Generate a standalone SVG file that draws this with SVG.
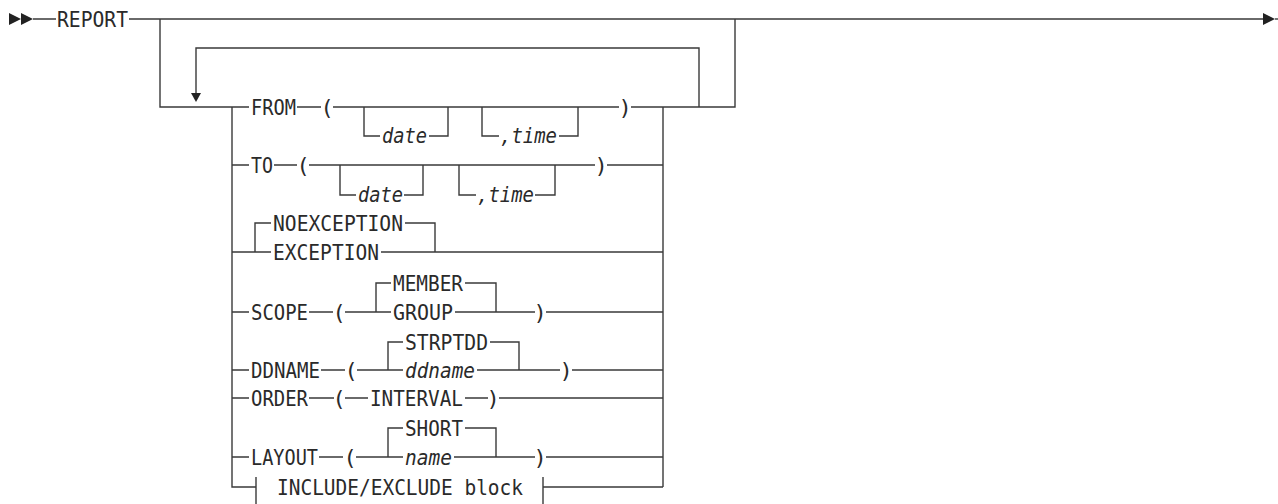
<svg xmlns="http://www.w3.org/2000/svg" width="1278" height="504" viewBox="0 0 1278 504">
<style>
.l{fill:none;stroke:#3a3a3a;stroke-width:1.4}
.a{fill:#222}
text{font-family:"DejaVu Sans Mono","Liberation Mono",monospace;font-size:22px;fill:#2a2a2a}
.i{font-style:italic}
.p{text-anchor:middle}
</style>
<rect width="1278" height="504" fill="#fff"/>
<g id="connectors">
<polygon class="a" points="9,13 21,19 9,25"/>
<polygon class="a" points="21,13 33,19 21,25"/>
<path class="l" d="M33,19H56M129,19H1263"/>
<polygon class="a" points="1263,13 1275,19 1263,25"/>
<path class="l" d="M1275,19H1278"/>
<path class="l" d="M160,19V107H249"/>
<path class="l" d="M663,107H735V19"/>
<path class="l" d="M699,107V48H196V93"/>
<polygon class="a" points="191,93 201,93 196,102"/>
<path class="l" d="M232,107V487H256M663,107V487"/>
<path class="l" d="M232,165H249M232,312H249M232,370H249M232,398H249M232,457H249"/>
<!-- FROM -->
<path class="l" d="M297,107H321M333,107H619M631,107H663"/>
<path class="l" d="M364,107V136H380M429,136H448V107M482,107V136H499M559,136H578V107"/>
<!-- TO -->
<path class="l" d="M274,165H297M309,165H595M607,165H663"/>
<path class="l" d="M340,165V195H356M404,195H423V165M459,165V195H476M535,195H555V165"/>
<!-- EXCEPTION -->
<path class="l" d="M232,252H271M255,252V223H271M405,223H435V252M381,252H663"/>
<!-- SCOPE -->
<path class="l" d="M309,312H333M345,312H391M376,312V283H391M465,283H496V312M455,312H535M546,312H663"/>
<!-- DDNAME -->
<path class="l" d="M321,370H345M357,370H403M388,370V342H403M490,342H519V370M477,370H560M572,370H663"/>
<!-- ORDER -->
<path class="l" d="M309,398H334M345,398H368M465,398H488M499,398H663"/>
<!-- LAYOUT -->
<path class="l" d="M319,457H343M356,457H403M388,457V428H403M465,428H496V457M454,457H535M546,457H663"/>
<!-- INCLUDE -->
<path class="l" d="M256,477V504M543,477V504M543,487H663"/>
</g>
<g id="report"><text x="57" y="27" textLength="71" lengthAdjust="spacingAndGlyphs">REPORT</text></g>
<g id="from">
<text x="251" y="115" textLength="45" lengthAdjust="spacingAndGlyphs">FROM</text>
<text class="p" x="327" y="115">(</text>
<text class="i" x="382" y="143" textLength="45" lengthAdjust="spacingAndGlyphs">date</text>
<text class="i" x="500" y="143" textLength="57" lengthAdjust="spacingAndGlyphs">,time</text>
<text class="p" x="625" y="115">)</text>
</g>
<g id="to">
<text x="251" y="173" textLength="22" lengthAdjust="spacingAndGlyphs">TO</text>
<text class="p" x="303" y="173">(</text>
<text class="i" x="358" y="202" textLength="45" lengthAdjust="spacingAndGlyphs">date</text>
<text class="i" x="477" y="202" textLength="57" lengthAdjust="spacingAndGlyphs">,time</text>
<text class="p" x="601" y="173">)</text>
</g>
<g id="exception">
<text x="273" y="231" textLength="130" lengthAdjust="spacingAndGlyphs">NOEXCEPTION</text>
<text x="273" y="260" textLength="106" lengthAdjust="spacingAndGlyphs">EXCEPTION</text>
</g>
<g id="scope">
<text x="251" y="320" textLength="57" lengthAdjust="spacingAndGlyphs">SCOPE</text>
<text class="p" x="339" y="320">(</text>
<text x="393" y="291" textLength="70" lengthAdjust="spacingAndGlyphs">MEMBER</text>
<text x="393" y="320" textLength="60" lengthAdjust="spacingAndGlyphs">GROUP</text>
<text class="p" x="540" y="320">)</text>
</g>
<g id="ddname">
<text x="251" y="378" textLength="69" lengthAdjust="spacingAndGlyphs">DDNAME</text>
<text class="p" x="351" y="378">(</text>
<text x="405" y="350" textLength="83" lengthAdjust="spacingAndGlyphs">STRPTDD</text>
<text class="i" x="405" y="378" textLength="70" lengthAdjust="spacingAndGlyphs">ddname</text>
<text class="p" x="566" y="378">)</text>
</g>
<g id="order">
<text x="251" y="406" textLength="57" lengthAdjust="spacingAndGlyphs">ORDER</text>
<text class="p" x="339" y="406">(</text>
<text x="370" y="406" textLength="93" lengthAdjust="spacingAndGlyphs">INTERVAL</text>
<text class="p" x="493" y="406">)</text>
</g>
<g id="layout">
<text x="251" y="465" textLength="67" lengthAdjust="spacingAndGlyphs">LAYOUT</text>
<text class="p" x="350" y="465">(</text>
<text x="405" y="436" textLength="58" lengthAdjust="spacingAndGlyphs">SHORT</text>
<text class="i" x="405" y="465" textLength="47" lengthAdjust="spacingAndGlyphs">name</text>
<text class="p" x="540" y="465">)</text>
</g>
<g id="include">
<text x="277" y="495" textLength="246" lengthAdjust="spacingAndGlyphs">INCLUDE/EXCLUDE block</text>
</g>
</svg>
